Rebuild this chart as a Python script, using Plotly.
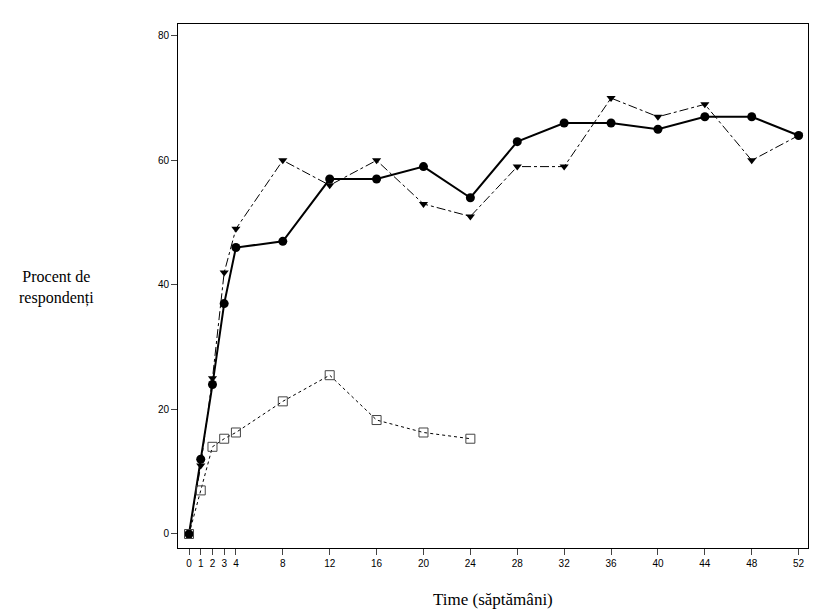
import plotly.graph_objects as go

weeks = [0, 1, 2, 3, 4, 8, 12, 16, 20, 24, 28, 32, 36, 40, 44, 48, 52]
circles = [0, 12, 24, 37, 46, 47, 57, 57, 59, 54, 63, 66, 66, 65, 67, 67, 64]
triangles = [0, 11, 25, 42, 49, 60, 56, 60, 53, 51, 59, 59, 70, 67, 69, 60, 64]
weeks_sq = [0, 1, 2, 3, 4, 8, 12, 16, 20, 24]
squares = [0, 7, 14, 15.3, 16.3, 21.3, 25.5, 18.3, 16.3, 15.3]

fig = go.Figure()
fig.add_trace(go.Scatter(x=weeks, y=triangles, mode='lines+markers', name='tratament 2',
                         line=dict(color='black', width=1, dash='dashdot'),
                         marker=dict(symbol='triangle-down', size=8, color='black')))
fig.add_trace(go.Scatter(x=weeks, y=circles, mode='lines+markers', name='tratament 1',
                         line=dict(color='black', width=2),
                         marker=dict(symbol='circle', size=9, color='black')))
fig.add_trace(go.Scatter(x=weeks_sq, y=squares, mode='lines+markers', name='placebo',
                         line=dict(color='black', width=1, dash='dot'),
                         marker=dict(symbol='square-open', size=9, color='#444')))

fig.update_layout(
    width=817, height=613,
    margin=dict(l=170, r=17, t=16, b=73, autoexpand=False),
    plot_bgcolor='white', paper_bgcolor='white',
    font=dict(family='Liberation Sans', size=10, color='black'),
    showlegend=True,
    legend=dict(orientation='h', x=0.5, xanchor='center', y=-0.14, yanchor='middle',
                font=dict(family='Liberation Serif', size=16), traceorder='normal'),
    xaxis=dict(range=[-0.94, 52.8], tickvals=[0, 1, 2, 3, 4, 8, 12, 16, 20, 24, 28, 32, 36, 40, 44, 48, 52],
               showgrid=False, zeroline=False, showline=True, linecolor='black', mirror=True,
               ticks='outside', ticklen=6),
    yaxis=dict(range=[-2.25, 81.9], tickvals=[0, 20, 40, 60, 80],
               showgrid=False, zeroline=False, showline=True, linecolor='black', mirror=True,
               ticks='outside', ticklen=6),
)
fig.add_annotation(text='Time (săptămâni)', xref='paper', yref='paper', x=0.5, y=-0.099,
                   showarrow=False, yanchor='middle', font=dict(family='Liberation Serif', size=17))
fig.add_annotation(text='Procent de<br>respondenți', xref='paper', yref='paper',
                   x=(48 - 170) / 630, y=0.497, xanchor='center',
                   showarrow=False, font=dict(family='Liberation Serif', size=16), align='center')

fig.write_html("out.html")
